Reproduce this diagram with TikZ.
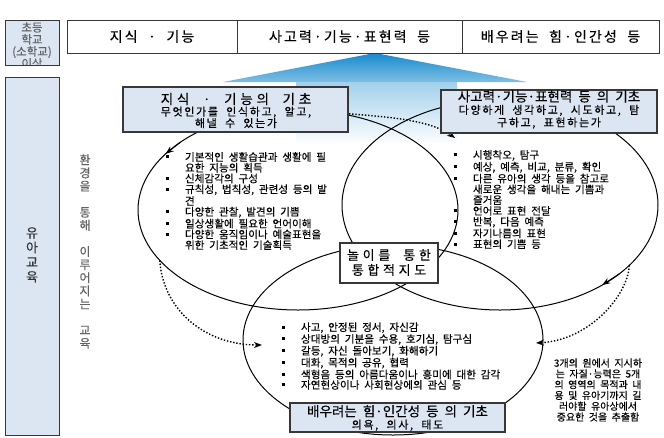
\documentclass[tikz,border=0pt]{standalone}
\usepackage{fontspec}
\setmainfont{Noto Sans CJK KR}[WordSpace=2,FakeBold=0.25]
\newfontfamily\lsfam{Noto Sans CJK KR}[WordSpace=2,LetterSpace=15,FakeBold=0.25]
\newfontfamily\wlsfam{Noto Sans CJK KR}[WordSpace=2,LetterSpace=28,FakeBold=0.25]
\usetikzlibrary{shapes.geometric,arrows.meta}
\definecolor{boxblue}{RGB}{220,230,242}
\definecolor{arrowblue}{RGB}{22,138,205}
\definecolor{linegray}{RGB}{55,55,55}
\definecolor{txtgray}{RGB}{100,100,100}
\newcommand{\bl}{\makebox[20pt][l]{\hspace{1pt}\rule[2.5pt]{3pt}{3pt}}}
\newcommand{\ind}{\hspace*{20pt}}
\tikzset{
  every node/.style={inner sep=0pt, outer sep=0pt},
  hdr/.style={draw=linegray, line width=1pt, minimum height=33pt, font=\lsfam\fontsize{14}{16}\selectfont},
  sidebox/.style={draw=linegray, line width=1pt, fill=boxblue},
  basebox/.style={draw=linegray, line width=1.5pt, fill=boxblue},
  venn/.style={ellipse, draw=black, line width=1pt},
  bullets/.style={align=left, anchor=west, font=\fontsize{10.6}{10.75}\selectfont},
  tip/.style={-{Stealth[length=8pt,width=6pt]}},
  dotarrow/.style={line width=1.4pt, dash pattern=on 1.4pt off 1.8pt, -{Stealth[length=8pt,width=6pt]}}
}
\begin{document}
\begin{tikzpicture}[x=1pt,y=-1pt]
\useasboundingbox (0,0) rectangle (664,437);
\fill[white] (0,0) rectangle (664,437);

% blue upward arrow behind the base boxes
\shade[top color=arrowblue, bottom color=arrowblue!55] (375,53) -- (527,82) -- (223,82) -- cycle;
\shade[top color=arrowblue!40, bottom color=white] (296,82) rectangle (457,145);

% header row
\node[sidebox, minimum width=54pt, minimum height=45pt] (elem) at (32,42.5) {};
\begin{scope}
  \clip (5.5,20.5) rectangle (58.5,64.5);
  \node[align=center, text=txtgray, font=\fontsize{11.5}{12}\selectfont] (elemtext) at (32,45.5) {초등\\학교\\(소학교)\\이상};
\end{scope}
\node[hdr, minimum width=170pt] (h1) at (152,36.5) {지식 · 기능};
\node[hdr, minimum width=225pt] (h2) at (349.5,36.5) {사고력·기능·표현력 등};
\node[hdr, minimum width=197pt] (h3) at (560.5,36.5) {배우려는 힘·인간성 등};

% left column
\node[sidebox, minimum width=54pt, minimum height=358pt] (kinder) at (32,256) {};
\node[align=center, font=\fontsize{13}{14.7}\selectfont, text=black!80] (kindertext) at (32,255) {유\\아\\교\\육};
\node[align=center, font=\fontsize{12}{13.1}\selectfont, text=txtgray] (env) at (85,251.5)
  {환\\경\\을\\[13.1pt]통\\해\\[13.1pt]이\\루\\어\\지\\는\\[13.1pt]교\\육};

% three areas
\node[venn, minimum width=320pt, minimum height=200pt] (A) at (298,210) {};
\node[venn, minimum width=316pt, minimum height=210pt] (B) at (500,205) {};
\node[venn, minimum width=300pt, minimum height=190pt] (C) at (393,340) {};
\draw[line width=1pt, tip] (A.150) -- (A.157);
\draw[line width=1pt, tip] (B.-30) -- (B.-38);

% dotted links
\coordinate (tdEnd) at (455,138);
\coordinate (ldEnd) at (262,345);
\coordinate (rdEnd) at (536,343);
\draw[dotarrow] (A.72) .. controls (362,116) and (425,116) .. (tdEnd);
\draw[dotarrow] (A.200) .. controls (163,310) and (205,345) .. (ldEnd);
\draw[dotarrow] (B.-25) .. controls (628,295) and (590,340) .. (rdEnd);

% bullet lists
\node[bullets] (listA) at (165,201) {\bl 기본적인 생활습관과 생활에 필\\ \ind 요한 지능의 획득\\ \bl 신체감각의 구성\\ \bl 규칙성, 법칙성, 관련성 등의 발\\ \ind 견\\ \bl 다양한 관찰, 발견의 기쁨\\ \bl 일상생활에 필요한 언어이해\\ \bl 다양한 움직임이나 예술표현을\\ \ind 위한 기초적인 기술획득};
\node[bullets] (listB) at (453,199.5) {\bl 시행착오, 탐구\\ \bl 예상, 예측, 비교, 분류, 확인\\ \bl 다른 유아의 생각 등을 참고로\\ \ind 새로운 생각을 해내는 기쁨과\\ \ind 즐거움\\ \bl 언어로 표현 전달\\ \bl 반복, 다음 예측\\ \bl 자기나름의 표현\\ \bl 표현의 기쁨 등};
\node[bullets, font=\fontsize{10.6}{10.4}\selectfont] (listC) at (281,356) {\bl 사고, 안정된 정서, 자신감\\ \bl 상대방의 기분을 수용, 호기심, 탐구심\\ \bl 갈등, 자신 돌아보기, 화해하기\\ \bl 대화, 목적의 공유, 협력\\ \bl 색형음 등의 아름다움이나 흥미에 대한 감각\\ \bl 자연현상이나 사회현상에의 관심 등};

% base boxes
\node[basebox, minimum width=225pt, minimum height=45pt] (boxA) at (235.5,109.5) {};
\node[align=center, font=\lsfam\fontsize{11}{11.5}\selectfont] (tA) at (236,110.5)
  {{\wlsfam\fontsize{13.5}{15}\selectfont 지식 · 기능의 기초}\\무엇인가를 인식하고, 알고,\\해낼 수 있는가};
\node[basebox, minimum width=216pt, minimum height=43pt] (boxB) at (549,111.5) {};
\node[align=center, font=\lsfam\fontsize{11}{12.5}\selectfont] (tB) at (549,109.5)
  {{\normalfont\fontsize{13.5}{15}\selectfont 사고력·기능·표현력 등 의 기초}\\다양하게 생각하고, 시도하고, 탐\\구하고, 표현하는가};
\node[basebox, minimum width=215pt, minimum height=29pt] (boxC) at (397.5,417.5) {};
\node[align=center, font=\lsfam\fontsize{11}{12.5}\selectfont] (tC) at (397.5,418)
  {{\normalfont\fontsize{13.5}{15}\selectfont 배우려는 힘·인간성 등 의 기초}\\의욕, 의사, 태도};
\node[draw=linegray, line width=1.2pt, fill=white, minimum width=98pt, minimum height=40pt] (mid) at (389,263) {};
\node[align=center, font=\wlsfam\fontsize{13}{15}\selectfont] (tM) at (389,262.5) {놀이를 통한\\통합적지도};

% note
\node[align=center, font=\fontsize{10}{10.8}\selectfont] (note) at (598,390)
  {3개의 원에서 지시하\\는 자질·능력은 5개\\의 영역의 목적과 내\\용 및 유아기까지 길\\러야할 유아상에서\\중요한 것을 추출함};
\end{tikzpicture}
\end{document}
